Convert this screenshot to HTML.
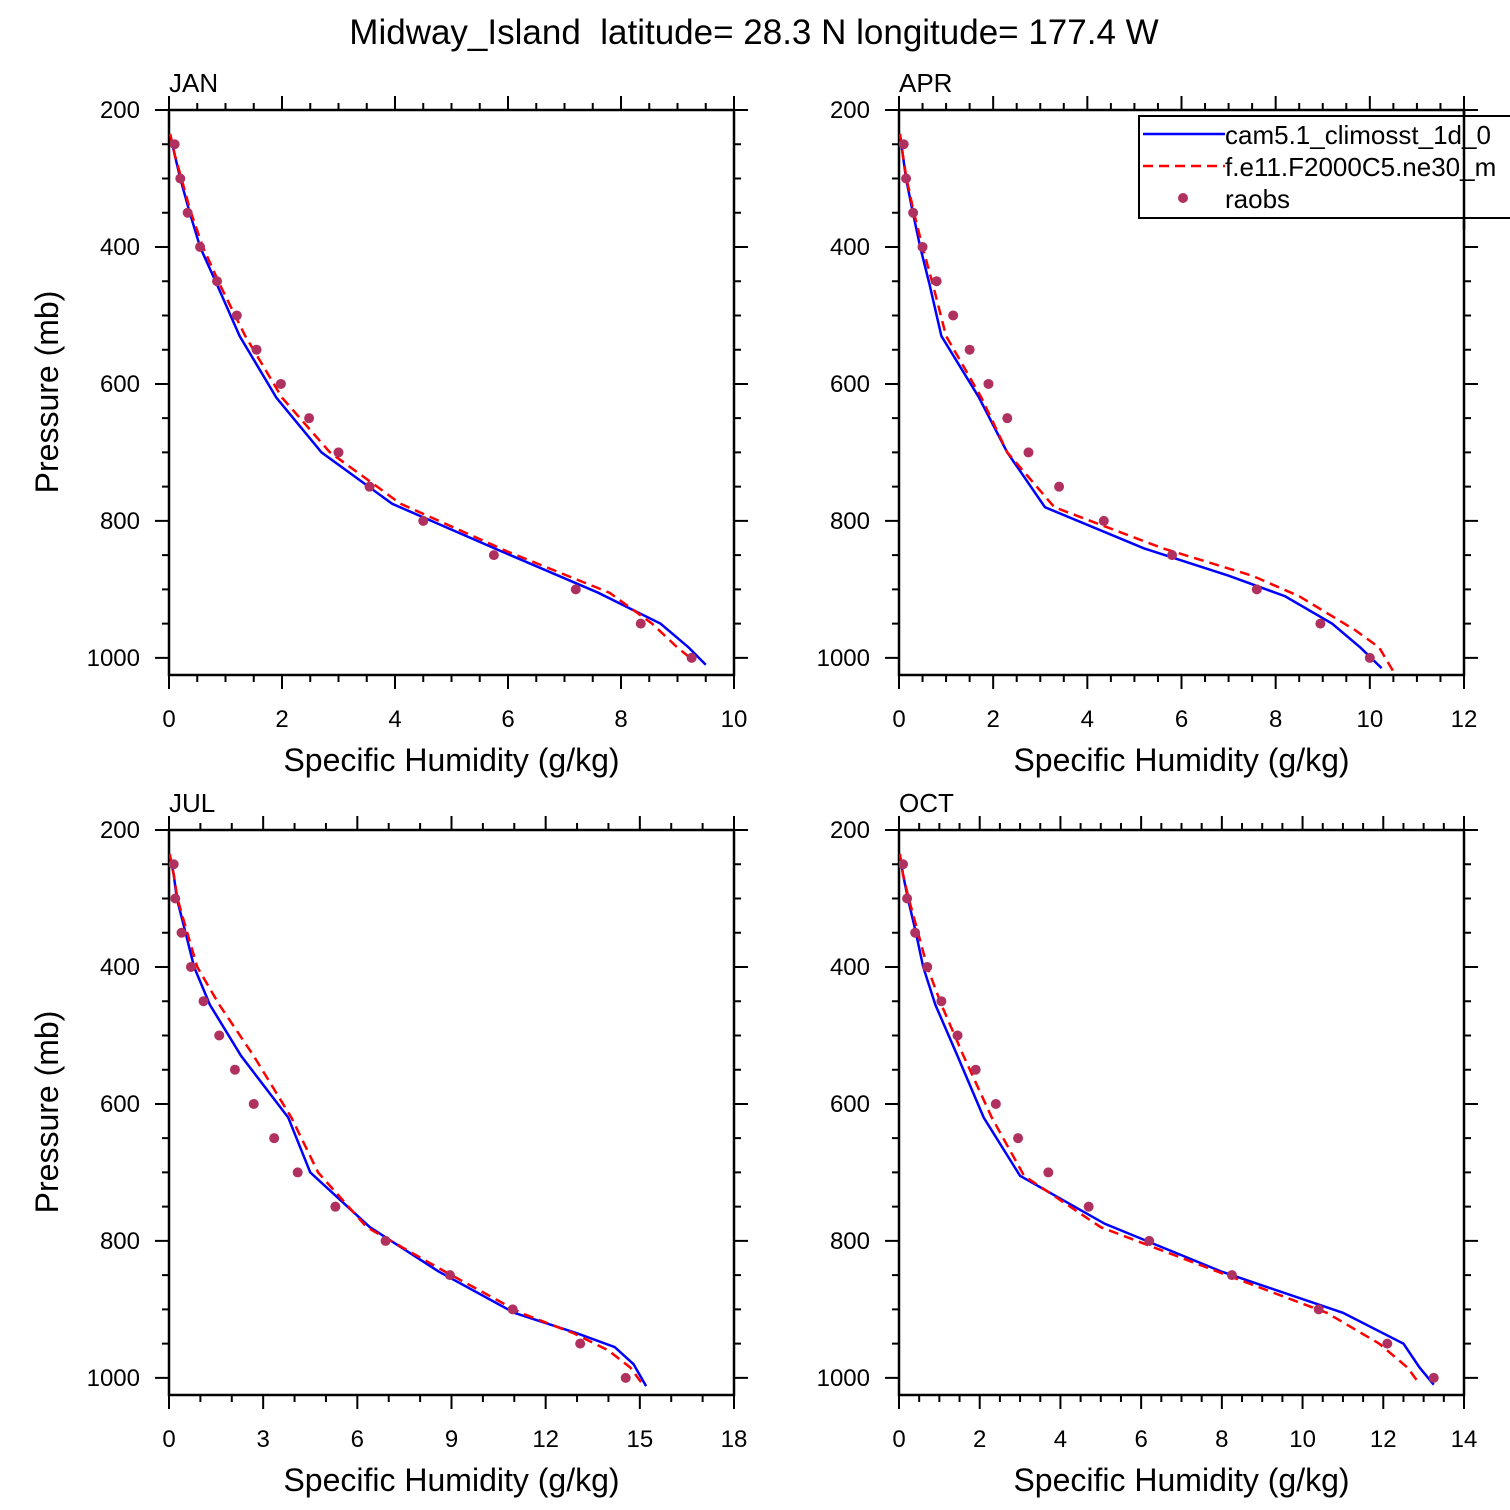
<!DOCTYPE html>
<html><head><meta charset="utf-8"><style>
html,body{margin:0;padding:0;background:#fff;}
svg{display:block;font-family:"Liberation Sans",Arial,sans-serif;}
</style></head><body>
<svg id="chart" width="1510" height="1510" viewBox="0 0 1510 1510" xmlns="http://www.w3.org/2000/svg">
<rect width="1510" height="1510" fill="#fff"/>
<text x="754" y="44" font-size="35" text-anchor="middle">Midway_Island&#160; latitude= 28.3 N longitude= 177.4 W</text>
</svg>
<script>
const obsLevels = [250,300,350,400,450,500,550,600,650,700,750,800,850,900,950,1000];
const janObs = [0.1,0.2,0.33,0.55,0.85,1.2,1.55,1.98,2.48,3.0,3.55,4.5,5.75,7.2,8.35,9.25];
const aprObs = [0.1,0.15,0.3,0.5,0.8,1.15,1.5,1.9,2.3,2.75,3.4,4.35,5.8,7.6,8.95,10.0];
const julObs = [0.15,0.2,0.4,0.7,1.1,1.6,2.1,2.7,3.35,4.1,5.3,6.9,8.95,10.95,13.1,14.55];
const octObs = [0.1,0.2,0.4,0.7,1.05,1.45,1.9,2.4,2.95,3.7,4.7,6.2,8.25,10.4,12.1,13.25];

const janCamP = [235,265,300,345,400,455,530,620,700,775,845,905,950,985,1010];
const janCamQ = [0.02,0.1,0.2,0.35,0.55,0.85,1.25,1.9,2.7,3.95,5.9,7.6,8.7,9.2,9.5];
const janE11P = [235,265,300,345,400,455,530,620,700,775,845,905,950,985,1005];
const janE11Q = [0.02,0.1,0.22,0.37,0.6,0.9,1.35,2.0,2.85,4.1,6.0,7.8,8.55,9.0,9.3];

const aprCamP = [235,265,300,345,400,455,530,620,700,780,840,880,910,950,985,1015];
const aprCamQ = [0.02,0.08,0.15,0.28,0.45,0.65,0.9,1.7,2.3,3.1,5.2,7.0,8.2,9.2,9.8,10.25];
const aprE11P = [235,265,300,345,400,455,530,620,700,780,840,880,910,960,985,1020];
const aprE11Q = [0.02,0.08,0.16,0.3,0.5,0.72,1.0,1.75,2.3,3.3,5.6,7.5,8.5,9.7,10.2,10.5];

const julCamP = [235,265,300,345,400,455,530,620,700,780,845,905,935,955,980,1000,1012];
const julCamQ = [0.02,0.15,0.25,0.5,0.8,1.3,2.3,3.8,4.5,6.4,8.6,11.0,13.0,14.2,14.8,15.05,15.2];
const julE11P = [235,265,300,345,400,455,530,620,700,780,845,905,935,960,985,1010];
const julE11Q = [0.02,0.15,0.27,0.55,0.9,1.6,2.7,3.9,4.75,6.3,8.8,11.2,12.9,14.0,14.7,15.1];

const octCamP = [235,265,300,345,400,455,530,620,705,775,845,905,950,985,1010];
const octCamQ = [0.02,0.1,0.22,0.4,0.6,0.9,1.45,2.1,3.0,5.1,8.0,11.0,12.5,12.9,13.25];
const octE11P = [235,265,300,345,400,455,530,620,705,780,845,905,950,985,1005];
const octE11Q = [0.02,0.1,0.24,0.45,0.7,1.05,1.6,2.3,3.1,5.0,7.9,10.6,11.9,12.6,12.85];

const yTicks = [200,400,600,800,1000];
const janXTicks = [0,2,4,6,8,10];
const aprXTicks = [0,2,4,6,8,10,12];
const julXTicks = [0,3,6,9,12,15,18];
const octXTicks = [0,2,4,6,8,10,12,14];

const NS = "http://www.w3.org/2000/svg";
const svg = document.getElementById('chart');
function mk(tag, attrs, parent){
  const e = document.createElementNS(NS, tag);
  for (const k in attrs) e.setAttribute(k, attrs[k]);
  (parent||svg).appendChild(e);
  return e;
}

const panels = [
  {id:'jan', label:'JAN', x0:169, y0:110, xmax:10, minor:0.5, xt:janXTicks, obs:janObs, cp:janCamP, cq:janCamQ, ep:janE11P, eq:janE11Q, ylab:true},
  {id:'apr', label:'APR', x0:899, y0:110, xmax:12, minor:0.5, xt:aprXTicks, obs:aprObs, cp:aprCamP, cq:aprCamQ, ep:aprE11P, eq:aprE11Q, ylab:false},
  {id:'jul', label:'JUL', x0:169, y0:830, xmax:18, minor:1, xt:julXTicks, obs:julObs, cp:julCamP, cq:julCamQ, ep:julE11P, eq:julE11Q, ylab:true},
  {id:'oct', label:'OCT', x0:899, y0:830, xmax:14, minor:0.5, xt:octXTicks, obs:octObs, cp:octCamP, cq:octCamQ, ep:octE11P, eq:octE11Q, ylab:false}
];
const W = 565, H = 565, PMIN = 200, PMAX = 1025;

panels.forEach(pn => {
  const g = mk('g', {});
  
  
  const xs = q => pn.x0 + q / pn.xmax * W;
  const ys = p => pn.y0 + (p - PMIN) / (PMAX - PMIN) * H;
  const x1 = pn.x0 + W, y1 = pn.y0 + H;

  const clipId = 'clip-' + pn.id;
  const cp = mk('clipPath', {id: clipId}, g);
  mk('rect', {x: pn.x0, y: pn.y0, width: W, height: H}, cp);

  let tk = '';
  for (let p = 200; p <= 1000; p += 50) {
    const y = ys(p), len = (p % 200 === 0) ? 14 : 7;
    tk += `M${pn.x0},${y}h${-len}M${x1},${y}h${len}`;
  }
  for (let q = 0; q <= pn.xmax + 1e-9; q += pn.minor) {
    const x = xs(q);
    const major = pn.xt.some(t => Math.abs(t - q) < 1e-6);
    const len = major ? 14 : 7;
    tk += `M${x},${y1}v${len}M${x},${pn.y0}v${-len}`;
  }
  const ticks = mk('path', {d: tk, stroke: '#000', 'stroke-width': 2, fill: 'none'}, g);
  
  

  const frame = mk('rect', {x: pn.x0, y: pn.y0, width: W, height: H, fill: 'none', stroke: '#000', 'stroke-width': 2.5}, g);
  
  

  yTicks.forEach(p => {
    const t = mk('text', {x: pn.x0 - 29, y: ys(p) + 8, 'font-size': 24, 'text-anchor': 'end'}, g);
    t.textContent = p;
    
    
  });
  pn.xt.forEach(q => {
    const t = mk('text', {x: xs(q), y: y1 + 52, 'font-size': 24, 'text-anchor': 'middle'}, g);
    t.textContent = q;
    
    
  });

  const lab = mk('text', {x: pn.x0, y: pn.y0 - 18, 'font-size': 26}, g);
  lab.textContent = pn.label;
  
  

  const xl = mk('text', {x: pn.x0 + W / 2, y: y1 + 96, 'font-size': 32, 'text-anchor': 'middle'}, g);
  xl.textContent = 'Specific Humidity (g/kg)';
  
  

  if (pn.ylab) {
    const yc = pn.y0 + 282;
    const yl = mk('text', {x: 47, y: yc, 'font-size': 32, 'text-anchor': 'middle', 'dominant-baseline': 'central', transform: `rotate(-90 47 ${yc})`}, g);
    yl.textContent = 'Pressure (mb)';
    
    
  }

  const dg = mk('g', {'clip-path': `url(#${clipId})`}, g);
  const camPts = pn.cp.map((p, i) => xs(pn.cq[i]) + ',' + ys(p)).join(' ');
  const cam = mk('polyline', {points: camPts, fill: 'none', stroke: '#0000ff', 'stroke-width': 2.5}, dg);
  
  
  const e11Pts = pn.ep.map((p, i) => xs(pn.eq[i]) + ',' + ys(p)).join(' ');
  const e11 = mk('polyline', {points: e11Pts, fill: 'none', stroke: '#ff0000', 'stroke-width': 2.5, 'stroke-dasharray': '10,6'}, dg);
  
  
  obsLevels.forEach((p, i) => {
    const c = mk('circle', {cx: xs(pn.obs[i]), cy: ys(p), r: 5, fill: '#b03060'}, dg);
    
    
  });
});

const lg = mk('g', {});


mk('rect', {x: 1139, y: 116, width: 400, height: 102, fill: '#fff', stroke: '#000', 'stroke-width': 2}, lg);
const l1 = mk('line', {x1: 1143, y1: 134, x2: 1225, y2: 134, stroke: '#0000ff', 'stroke-width': 2.5}, lg);


const t1 = mk('text', {x: 1225, y: 144, 'font-size': 26}, lg);
t1.textContent = 'cam5.1_climosst_1d_0';


const l2 = mk('line', {x1: 1143, y1: 166, x2: 1225, y2: 166, stroke: '#ff0000', 'stroke-width': 2.5, 'stroke-dasharray': '10,6'}, lg);


const t2 = mk('text', {x: 1225, y: 176, 'font-size': 26}, lg);
t2.textContent = 'f.e11.F2000C5.ne30_m';


const c3 = mk('circle', {cx: 1183, cy: 198, r: 5, fill: '#b03060'}, lg);


const t3 = mk('text', {x: 1225, y: 208, 'font-size': 26}, lg);
t3.textContent = 'raobs';


const ax = mk('line', {x1: 1464, y1: 110, x2: 1464, y2: 230, stroke: '#000', 'stroke-width': 2.5});


</script>
</body></html>
